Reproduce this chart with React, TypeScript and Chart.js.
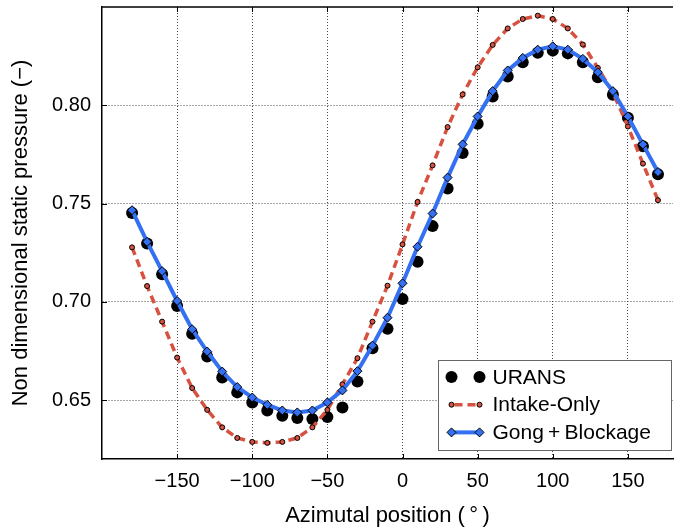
import React, { useEffect, useRef } from 'react';
import { Chart, registerables } from 'chart.js';

Chart.register(...registerables);

const angles = [-180, -170, -160, -150, -140, -130, -120, -110, -100, -90, -80, -70, -60, -50, -40, -30, -20, -10, 0, 10, 20, 30, 40, 50, 60, 70, 80, 90, 100, 110, 120, 130, 140, 150, 160, 170];

const urans = [0.7452, 0.7297, 0.714, 0.6979, 0.6837, 0.6721, 0.6615, 0.6539, 0.6488, 0.6447, 0.642, 0.6409, 0.6404, 0.6414, 0.6462, 0.6594, 0.6764, 0.6863, 0.7014, 0.7204, 0.7385, 0.7576, 0.7757, 0.7906, 0.8045, 0.8146, 0.8219, 0.8267, 0.8278, 0.8264, 0.8219, 0.8143, 0.8053, 0.7937, 0.7791, 0.7649];

const intakeOnly = [0.7277, 0.708, 0.6899, 0.6716, 0.6561, 0.645, 0.6361, 0.6307, 0.6287, 0.6282, 0.6287, 0.6307, 0.6361, 0.645, 0.658, 0.6713, 0.6899, 0.7082, 0.7292, 0.7508, 0.7694, 0.7889, 0.8055, 0.8193, 0.8307, 0.8391, 0.8439, 0.8456, 0.8439, 0.8391, 0.8309, 0.819, 0.8065, 0.7892, 0.7703, 0.7517];

const gongBlockage = [0.7466, 0.7305, 0.7156, 0.7004, 0.686, 0.6747, 0.6645, 0.6566, 0.6513, 0.6476, 0.6447, 0.6437, 0.6447, 0.6488, 0.6549, 0.6647, 0.6777, 0.6919, 0.7094, 0.728, 0.7449, 0.7632, 0.7801, 0.7943, 0.8072, 0.8177, 0.8241, 0.8283, 0.83, 0.8283, 0.8236, 0.8168, 0.8072, 0.7943, 0.7801, 0.766];

const seriesLabels = ['URANS', 'Intake-Only', 'Gong\u2009+\u2009Blockage'];
const xTicks = [-150, -100, -50, 0, 50, 100, 150];
const yTicks = [0.65, 0.7, 0.75, 0.8];
const xTitle = 'Azimutal position (\u2009\u00b0\u2009)';
const yTitle = 'Non dimensional static pressure (\u2212)';

const RED = '#d6513f';
const BLUE = '#3470f2';
const FONT = "'Liberation Sans', Arial, Helvetica, sans-serif";

function drawDiamond(ctx: CanvasRenderingContext2D, x: number, y: number, r: number) {
  ctx.beginPath();
  ctx.moveTo(x - r, y);
  ctx.lineTo(x, y - r);
  ctx.lineTo(x + r, y);
  ctx.lineTo(x, y + r);
  ctx.closePath();
  ctx.fillStyle = BLUE;
  ctx.fill();
  ctx.lineWidth = 1;
  ctx.strokeStyle = '#000';
  ctx.stroke();
}

function drawCircle(ctx: CanvasRenderingContext2D, x: number, y: number, r: number, fill: string, border: boolean) {
  ctx.beginPath();
  ctx.arc(x, y, r, 0, Math.PI * 2);
  ctx.fillStyle = fill;
  ctx.fill();
  if (border) {
    ctx.lineWidth = 1;
    ctx.strokeStyle = '#000';
    ctx.stroke();
  }
}

const framePlugin = {
  id: 'frame',
  beforeDatasetsDraw(chart: any) {
    const { ctx, chartArea: a, scales } = chart;
    ctx.save();
    ctx.strokeStyle = '#000';
    ctx.lineWidth = 1.5;
    ctx.beginPath();
    ctx.moveTo(a.left, a.top);
    ctx.lineTo(a.right, a.top);
    ctx.stroke();
    ctx.lineWidth = 1;
    ctx.beginPath();
    for (const v of xTicks) {
      const x = Math.round(scales.x.getPixelForValue(v)) + 0.5;
      ctx.moveTo(x, a.bottom);
      ctx.lineTo(x, a.bottom - 5);
      ctx.moveTo(x, a.top);
      ctx.lineTo(x, a.top + 5);
    }
    for (const v of yTicks) {
      const y = Math.round(scales.y.getPixelForValue(v)) + 0.5;
      ctx.moveTo(a.left, y);
      ctx.lineTo(a.left + 5, y);
    }
    ctx.stroke();
    ctx.restore();
  },
};

const legendPlugin = {
  id: 'matlabLegend',
  afterDraw(chart: any) {
    const { ctx, chartArea: a } = chart;
    const bw = 233;
    const bh = 90;
    const bx = Math.round(a.right - 2 - bw) + 0.5;
    const by = Math.round(a.bottom - 9 - bh) + 0.5;
    ctx.save();
    ctx.fillStyle = '#fff';
    ctx.fillRect(bx, by, bw, bh);
    ctx.strokeStyle = '#666';
    ctx.lineWidth = 1;
    ctx.strokeRect(bx, by, bw, bh);
    const x1 = bx + 13;
    const x2 = bx + 41;
    const tx = bx + 54;
    ctx.font = `21px ${FONT}`;
    ctx.textBaseline = 'middle';
    ctx.textAlign = 'left';
    seriesLabels.forEach((label, i) => {
      const y = by + 16.5 + i * 27.7;
      if (i === 0) {
        drawCircle(ctx, x1, y, 6, '#000', false);
        drawCircle(ctx, x2, y, 6, '#000', false);
      } else if (i === 1) {
        ctx.beginPath();
        ctx.setLineDash([8, 5]);
        ctx.lineDashOffset = -3;
        ctx.strokeStyle = RED;
        ctx.lineWidth = 3.5;
        ctx.moveTo(x1, y);
        ctx.lineTo(x2, y);
        ctx.stroke();
        ctx.setLineDash([]);
        drawCircle(ctx, x1, y, 2.5, RED, true);
        drawCircle(ctx, x2, y, 2.5, RED, true);
      } else {
        ctx.beginPath();
        ctx.strokeStyle = BLUE;
        ctx.lineWidth = 4;
        ctx.moveTo(x1, y);
        ctx.lineTo(x2, y);
        ctx.stroke();
        drawDiamond(ctx, x1, y, 4.5);
        drawDiamond(ctx, x2, y, 4.5);
      }
      ctx.fillStyle = '#000';
      ctx.fillText(label, tx, y + 1);
    });
    ctx.restore();
  },
};

export default function App() {
  const canvasRef = useRef<HTMLCanvasElement | null>(null);

  useEffect(() => {
    const canvas = canvasRef.current;
    if (!canvas) return;
    const toPts = (vals: number[]) => angles.map((a, i) => ({ x: a, y: vals[i] }));
    const chart = new Chart(canvas, {
      type: 'line',
      data: {
        datasets: [
          {
            label: seriesLabels[0],
            data: toPts(urans),
            showLine: false,
            pointRadius: 6,
            pointBackgroundColor: '#000',
            pointBorderColor: '#000',
            pointBorderWidth: 0,
            order: 3,
          },
          {
            label: seriesLabels[1],
            data: toPts(intakeOnly),
            borderColor: RED,
            borderWidth: 3.5,
            borderDash: [8, 5],
            fill: false,
            tension: 0,
            pointRadius: 2.5,
            pointBackgroundColor: RED,
            pointBorderColor: '#000',
            pointBorderWidth: 1,
            order: 2,
          },
          {
            label: seriesLabels[2],
            data: toPts(gongBlockage),
            borderColor: BLUE,
            borderWidth: 4,
            fill: false,
            tension: 0,
            pointStyle: 'rectRot',
            pointRadius: 4.5,
            pointBackgroundColor: BLUE,
            pointBorderColor: '#000',
            pointBorderWidth: 1,
            order: 1,
          },
        ] as any,
      },
      options: {
        animation: false,
        responsive: false,
        maintainAspectRatio: false,
        layout: { padding: { top: 7, left: 0, right: 0, bottom: 0 } },
        plugins: {
          legend: { display: false },
          tooltip: { enabled: false },
        },
        scales: {
          x: {
            type: 'linear',
            min: -200,
            max: 180,
            afterBuildTicks: (s: any) => {
              s.ticks = xTicks.map((v) => ({ value: v }));
            },
            afterFit: (s: any) => {
              s.height = 69;
              s.paddingLeft = 0;
              s.paddingRight = 0;
            },
            grid: { color: '#4a4a4a', lineWidth: 1, drawTicks: false },
            border: { display: true, color: '#000', width: 1.5, dash: [1, 2] },
            ticks: {
              color: '#000',
              font: { family: FONT, size: 20 },
              padding: 10,
              maxRotation: 0,
              autoSkip: false,
              callback: (v: any) => (v < 0 ? '\u2212' + Math.abs(v) : String(v)),
            },
            title: {
              display: true,
              text: xTitle,
              color: '#000',
              font: { family: FONT, size: 22, lineHeight: 1 },
              padding: { top: 0, bottom: 1 },
            },
          },
          y: {
            type: 'linear',
            min: 0.62,
            max: 0.85,
            afterBuildTicks: (s: any) => {
              s.ticks = yTicks.map((v) => ({ value: v }));
            },
            afterFit: (s: any) => {
              s.width = 102;
              s.paddingTop = 0;
              s.paddingBottom = 0;
            },
            grid: { color: '#4a4a4a', lineWidth: 1, drawTicks: false },
            border: { display: true, color: '#000', width: 1.5, dash: [1, 2] },
            ticks: {
              color: '#000',
              font: { family: FONT, size: 20 },
              padding: 11,
              callback: (v: any) => Number(v).toFixed(2),
            },
            title: {
              display: true,
              text: yTitle,
              color: '#000',
              font: { family: FONT, size: 22, lineHeight: 1 },
              padding: { top: 10, bottom: 0 },
            },
          },
        },
      },
      plugins: [framePlugin, legendPlugin],
    });
    return () => chart.destroy();
  }, []);

  return (
    <div style={{ position: 'fixed', left: 0, top: 0, width: 679, height: 528, background: '#fff' }}>
      <canvas ref={canvasRef} width={679} height={528} style={{ display: 'block', width: 679, height: 528 }} />
    </div>
  );
}
